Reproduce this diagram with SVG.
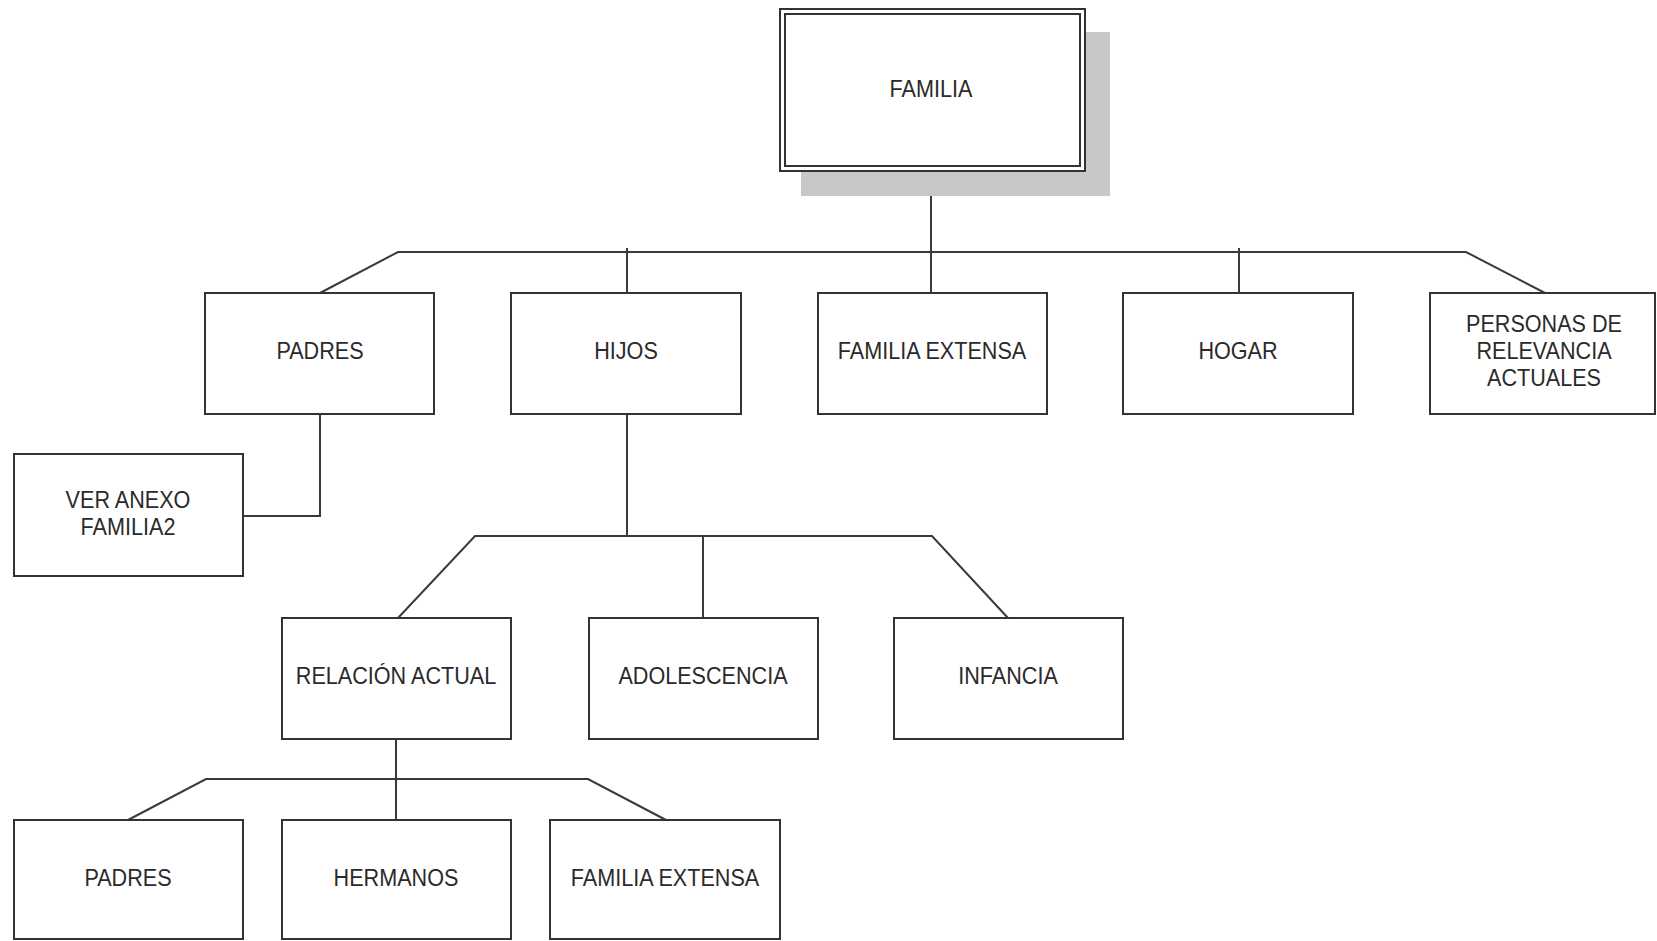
<svg xmlns="http://www.w3.org/2000/svg" width="1657" height="941" viewBox="0 0 1657 941">
  <style>
    .box { fill: #ffffff; stroke: #333333; stroke-width: 2; }
    .wire { fill: none; stroke: #3a3a3a; stroke-width: 2; }
    .lbl { font-family: "Liberation Sans", Arial, sans-serif; font-size: 24px; fill: #2a2a2a; text-anchor: middle; }
  </style>
  <rect width="1657" height="941" fill="#ffffff"/>

  <!-- connectors -->
  <g id="connectors">
    <!-- root to first level -->
    <path class="wire" d="M931 171 V293"/>
    <path class="wire" d="M320 293 L398 252 H1466 L1545 293"/>
    <path class="wire" d="M627 248 V293"/>
    <path class="wire" d="M1239 248 V293"/>
    <!-- PADRES to annex -->
    <path class="wire" d="M320 414 V516 H243"/>
    <!-- HIJOS to second level -->
    <path class="wire" d="M627 414 V536"/>
    <path class="wire" d="M398 618 L475 536 H932 L1008 618"/>
    <path class="wire" d="M703 536 V618"/>
    <!-- RELACIÓN ACTUAL to third level -->
    <path class="wire" d="M396 739 V820"/>
    <path class="wire" d="M128 820 L206 779 H588 L666 820"/>
  </g>

  <!-- labels are set slightly condensed: translate to the anchor, then scale x -->

  <!-- root node -->
  <g id="familia">
    <rect x="801" y="32" width="309" height="164" fill="#c8c8c8"/>
    <rect x="780" y="9" width="305" height="162" fill="#ffffff" stroke="#333333" stroke-width="2"/>
    <rect x="785" y="14" width="295" height="152" fill="none" stroke="#333333" stroke-width="2"/>
    <text class="lbl" transform="translate(931 97) scale(0.9 1)">FAMILIA</text>
  </g>

  <!-- first level -->
  <g id="padres">
    <rect class="box" x="205" y="293" width="229" height="121"/>
    <text class="lbl" transform="translate(320 359) scale(0.9 1)">PADRES</text>
  </g>
  <g id="hijos">
    <rect class="box" x="511" y="293" width="230" height="121"/>
    <text class="lbl" transform="translate(626 359) scale(0.9 1)">HIJOS</text>
  </g>
  <g id="familia-extensa">
    <rect class="box" x="818" y="293" width="229" height="121"/>
    <text class="lbl" transform="translate(932 359) scale(0.9 1)">FAMILIA EXTENSA</text>
  </g>
  <g id="hogar">
    <rect class="box" x="1123" y="293" width="230" height="121"/>
    <text class="lbl" transform="translate(1238 359) scale(0.9 1)">HOGAR</text>
  </g>
  <g id="personas-relevancia">
    <rect class="box" x="1430" y="293" width="225" height="121"/>
    <text class="lbl" transform="translate(1544 332) scale(0.9 1)">PERSONAS DE</text>
    <text class="lbl" transform="translate(1544 359) scale(0.9 1)">RELEVANCIA</text>
    <text class="lbl" transform="translate(1544 386) scale(0.9 1)">ACTUALES</text>
  </g>

  <!-- annex note -->
  <g id="ver-anexo">
    <rect class="box" x="14" y="454" width="229" height="122"/>
    <text class="lbl" transform="translate(128 508) scale(0.9 1)">VER ANEXO</text>
    <text class="lbl" transform="translate(128 535) scale(0.9 1)">FAMILIA2</text>
  </g>

  <!-- second level -->
  <g id="relacion-actual">
    <rect class="box" x="282" y="618" width="229" height="121"/>
    <text class="lbl" transform="translate(396 684) scale(0.9 1)">RELACIÓN ACTUAL</text>
  </g>
  <g id="adolescencia">
    <rect class="box" x="589" y="618" width="229" height="121"/>
    <text class="lbl" transform="translate(703 684) scale(0.9 1)">ADOLESCENCIA</text>
  </g>
  <g id="infancia">
    <rect class="box" x="894" y="618" width="229" height="121"/>
    <text class="lbl" transform="translate(1008 684) scale(0.9 1)">INFANCIA</text>
  </g>

  <!-- third level -->
  <g id="padres-2">
    <rect class="box" x="14" y="820" width="229" height="119"/>
    <text class="lbl" transform="translate(128 886) scale(0.9 1)">PADRES</text>
  </g>
  <g id="hermanos">
    <rect class="box" x="282" y="820" width="229" height="119"/>
    <text class="lbl" transform="translate(396 886) scale(0.9 1)">HERMANOS</text>
  </g>
  <g id="familia-extensa-2">
    <rect class="box" x="550" y="820" width="230" height="119"/>
    <text class="lbl" transform="translate(665 886) scale(0.9 1)">FAMILIA EXTENSA</text>
  </g>
</svg>
